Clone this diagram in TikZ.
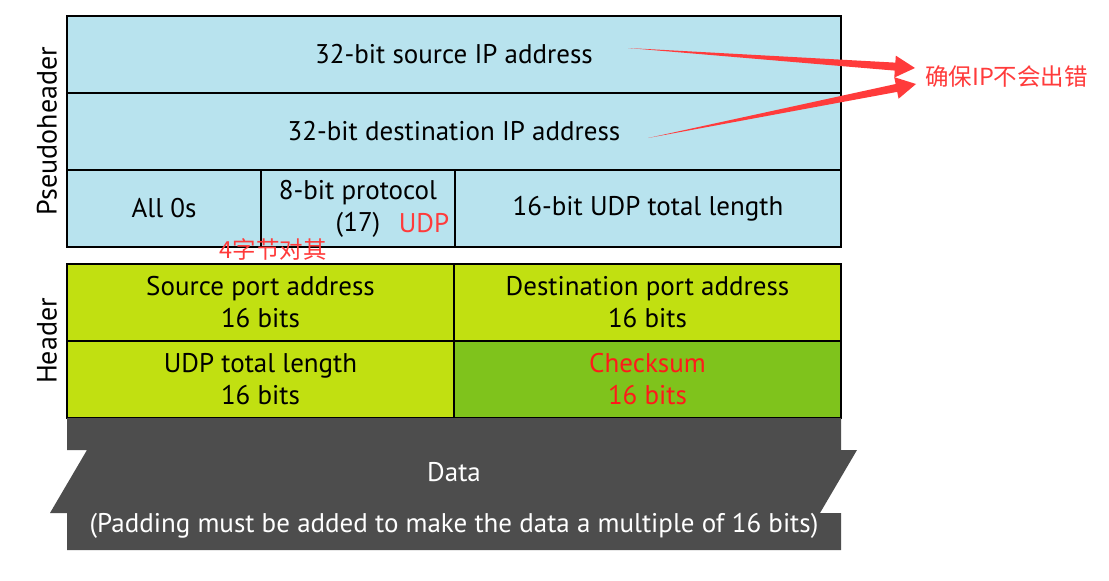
\documentclass[tikz,border=0pt]{standalone}
\usepackage{fontspec}
\setmainfont{PT Sans}
\newfontfamily\cjk{Noto Sans CJK SC}
\usetikzlibrary{positioning,calc}
\definecolor{pseudo}{HTML}{B8E3EE}
\definecolor{hdr}{HTML}{C1E011}
\definecolor{chk}{HTML}{7FC31C}
\definecolor{datagray}{HTML}{4D4D4D}
\definecolor{note}{HTML}{FF3B3B}
\definecolor{chktext}{HTML}{FF1A1A}

\begin{document}
\begin{tikzpicture}[x=1pt, y=-1pt,
    cell/.style = {draw, line width=1.8pt, outer sep=0pt, inner sep=0pt, align=center,
                   minimum height=77pt, font=\fontsize{27}{32}\selectfont},
    pcell/.style = {cell, fill=pseudo},
    hcell/.style = {cell, fill=hdr, minimum width=387pt},
    side/.style = {rotate=90, font=\fontsize{28}{32}\selectfont},
    notetext/.style = {text=note, inner sep=0pt, font=\fontsize{27}{30}\selectfont}]
    \path[use as bounding box, fill=white] (0,0) rectangle (1109,581);

    % pseudoheader
    \node[pcell, minimum width=774pt] (src) at (454,54.5) {32-bit source IP address};
    \node[pcell, minimum width=774pt, below=0pt of src] (dst) {32-bit destination IP address};
    \node[pcell, minimum width=194pt, below right=0pt and 0pt of dst.south west] (zeros) {All 0s};
    \node[pcell, minimum width=194pt, right=0pt of zeros] (proto) {8-bit protocol\\(17)};
    \node[pcell, minimum width=386pt, right=0pt of proto] (plen) {16-bit UDP total length};

    % header
    \node[hcell, below right=17pt and 0pt of zeros.south west] (sport) {Source port address\\16 bits};
    \node[hcell, right=0pt of sport] (dport) {Destination port address\\16 bits};
    \node[hcell, below=0pt of sport] (ulen) {UDP total length\\16 bits};
    \node[hcell, fill=chk, text=chktext, right=0pt of ulen] (chksum) {Checksum\\16 bits};

    % data
    \fill[datagray] (67,418) -- (841,418) -- (841,450) -- (857,450) -- (820,513) -- (841,513)
        -- (841,550) -- (67,550) -- (67,513) -- (50,513) -- (87,450) -- (67,450) -- cycle;
    \node[text=white, font=\fontsize{27}{32}\selectfont] (data) at (454,472) {Data};
    \node[text=white, font=\fontsize{27}{32}\selectfont] (pad) at (454,526)
        {(Padding must be added to make the data a multiple of 16 bits)};

    \node[side] (pslabel) at (47,131) {Pseudoheader};
    \node[side] (hlabel) at (47,341) {Header};

    % notes
    \node[notetext] (udp) at ($(proto.south east)+(-31,-24)$) {UDP};
    \node[notetext, font=\cjk\fontsize{23.5}{26}\selectfont] (align4) at (273,249) {4字节对其};
    \node[notetext, font=\cjk\fontsize{23.5}{26}\selectfont, anchor=west] (ipnote) at (925,77) {确保IP不会出错};

    \coordinate (a1s) at (628,48);
    \coordinate (a1t) at ($(ipnote.west)+(-10,-9)$);
    \coordinate (a2s) at (648,138);
    \coordinate (a2t) at ($(ipnote.west)+(-9,7)$);
    \foreach \s/\t in {a1s/a1t, a2s/a2t}{
        \coordinate (hb) at ($(\t)!20pt!(\s)$);
        \fill[note] (\s) -- ($(hb)!4pt!90:(\t)$) -- ($(hb)!11pt!90:(\t)$) -- (\t)
            -- ($(hb)!11pt!-90:(\t)$) -- ($(hb)!4pt!-90:(\t)$) -- cycle;
    }
\end{tikzpicture}
\end{document}
